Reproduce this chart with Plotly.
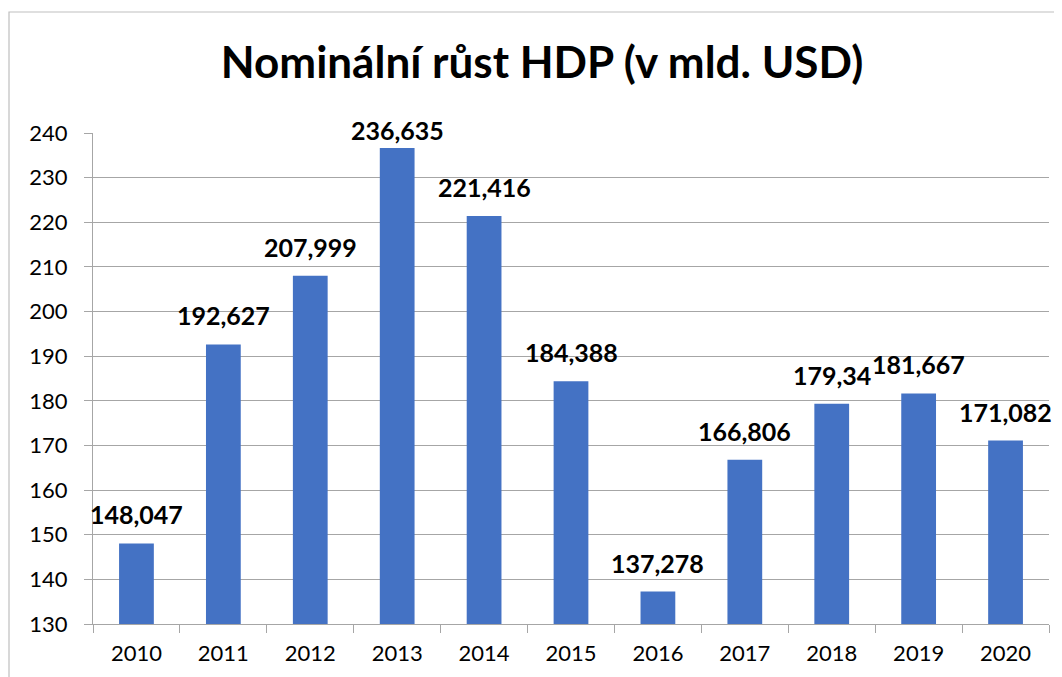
import plotly.graph_objects as go

years = ["2010", "2011", "2012", "2013", "2014", "2015", "2016", "2017", "2018", "2019", "2020"]
gdp = [148.047, 192.627, 207.999, 236.635, 221.416, 184.388, 137.278, 166.806, 179.34, 181.667, 171.082]
y_ticks = [130, 140, 150, 160, 170, 180, 190, 200, 210, 220, 230, 240]
title_text = "Nominální růst HDP (v mld. USD)"

labels = [str(v).replace(".", ",") for v in gdp]
label_shift = [12, 12, 12, 1, 12, 12, 12, 12, 12, 12, 12]

# page has an 8px body margin; figure coords = page coords - 8
OFF = 8
W, H = 1062 - OFF, 677 - OFF
L, T = 93 - OFF, 133 - OFF
R = W - (1049 - OFF)
B = H - (624 - OFF)
pw, ph = W - L - R, H - T - B

fig = go.Figure()
fig.add_trace(go.Bar(
    x=years, y=gdp,
    marker=dict(color="#4472C4", line=dict(width=0)),
    hovertemplate="%{x}: %{y}<extra></extra>",
))

for i, (v, lab, sh) in enumerate(zip(gdp, labels, label_shift)):
    fig.add_annotation(x=i, y=v, xref="x", yref="y", text=lab, showarrow=False,
                       xanchor="center", yanchor="bottom", yshift=sh,
                       font=dict(family="Lato", size=25, color="black", weight="bold"))

def px_x(p):
    return (p - OFF - L) / pw

def px_y(p):
    return (H - B - (p - OFF)) / ph

fig.add_shape(type="rect", xref="paper", yref="paper",
              x0=px_x(9), x1=px_x(1080), y0=px_y(700), y1=px_y(12),
              line=dict(color="#BFBFBF", width=1.2), fillcolor="rgba(0,0,0,0)", layer="below")

fig.update_layout(
    width=W, height=H,
    margin=dict(l=L, r=R, t=T, b=B, autoexpand=False),
    paper_bgcolor="white", plot_bgcolor="white",
    bargap=0.6,
    showlegend=False,
    title=dict(text=title_text, x=(542 - OFF) / W, xanchor="center", y=1 - (63 - OFF) / H, yanchor="middle",
               font=dict(family="Lato", size=44, color="black", weight="bold")),
    font=dict(family="Lato", color="black"),
)
fig.update_xaxes(
    type="category", categoryorder="array", categoryarray=years,
    range=[-0.5, len(years) - 0.5], autorange=False,
    tickson="boundaries", ticks="outside", ticklen=8, tickcolor="#A6A6A6",
    showline=True, linecolor="#A6A6A6", linewidth=1, showgrid=False,
    tickfont=dict(family="Lato", size=22, color="black"), ticklabelstandoff=10,
)
fig.update_yaxes(
    range=[130, 240], tickvals=y_ticks, ticks="outside", ticklen=8, tickcolor="#A6A6A6",
    showline=True, linecolor="#A6A6A6", linewidth=1,
    showgrid=True, gridcolor="#A6A6A6", gridwidth=1, zeroline=False,
    tickfont=dict(family="Lato", size=22, color="black"), ticklabelstandoff=12,
)

fig.write_html("out.html")
